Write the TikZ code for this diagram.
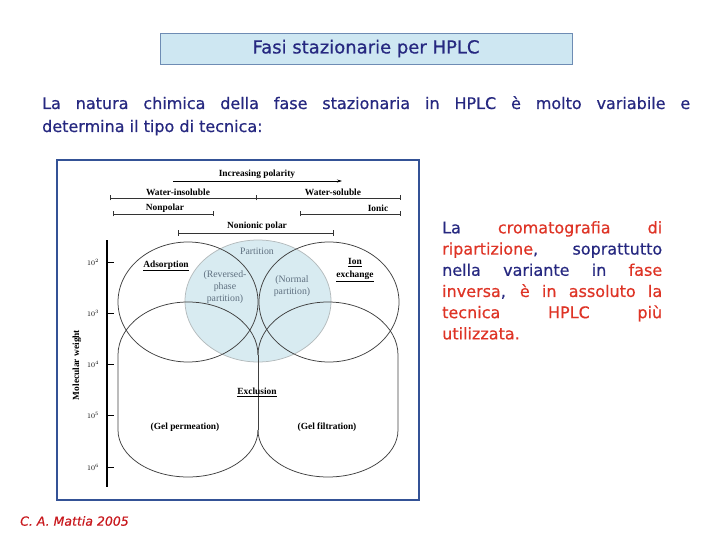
\documentclass[tikz,border=0pt]{standalone}
\usepackage{fontspec}
\setmainfont{Liberation Serif}
\newfontfamily\slidefont[FakeBold=0.6]{DejaVu Sans}
\usetikzlibrary{arrows.meta, positioning}
\definecolor{cnavy}   {RGB}{38, 40,128}
\definecolor{cred}    {RGB}{222,52, 38}
\definecolor{cfoot}   {RGB}{200,25, 30}
\definecolor{ctitle}  {RGB}{206,231,242}
\definecolor{ctitleb} {RGB}{110,140,180}
\definecolor{cframe}  {RGB}{52, 82,150}
\definecolor{cpart}   {RGB}{216,235,241}
\definecolor{cgtxt}   {RGB}{95,112,128}
\tikzset{
  titlebox/.style={rectangle, draw=ctitleb, fill=ctitle, line width=0.8pt,
             minimum width=412pt, minimum height=31pt, inner sep=0pt,
             font=\slidefont\fontsize{18}{20}\selectfont, text=cnavy},
  para/.style={anchor=north west, inner sep=0pt, align=justify,
             font=\slidefont\fontsize{16}{23}\selectfont, text=cnavy},
  side/.style={anchor=north west, inner sep=0pt, align=justify, text width=220pt,
             font=\slidefont\fontsize{16}{21.2}\selectfont, text=cnavy},
  lab/.style={font=\fontsize{9.4}{10}\selectfont\bfseries, inner sep=0pt, align=center},
  glab/.style={font=\fontsize{9.8}{12}\selectfont, text=cgtxt, inner sep=0pt, align=center},
  bar/.style={{Bar[width=5pt]}-{Bar[width=5pt]}, line width=0.65pt, color=black!80},
  arr/.style={-{Stealth[length=5pt,width=3pt]}, line width=0.65pt},
  field/.style={line width=0.75pt, color=black!75},
}

\begin{document}
\begin{tikzpicture}[x=1pt, y=-1pt]
  \useasboundingbox (0,0) rectangle (720,540);

  % ── Slide texts ────────────────────────────────────────────────────────────
  \node[titlebox] (title) at (366,48.5) {Fasi stazionarie per HPLC};
  \node[para, text width=648pt] (intro) at (42,96)
    {La natura chimica della fase stazionaria in HPLC è molto variabile e\linebreak
     determina il tipo di tecnica:};
  \node[side] (note) at (442,221)
    {La \textcolor{cred}{cromatografia di\linebreak ripartizione}, soprattutto\linebreak
     nella variante in \textcolor{cred}{fase\linebreak inversa}, \textcolor{cred}{è in assoluto la\linebreak
     tecnica HPLC più\linebreak utilizzata.}};
  \node[anchor=west, text=cfoot, font=\slidefont\itshape\fontsize{12.5}{14}\selectfont,
        inner sep=0pt] (foot) at (20,521) {C. A. Mattia 2005};

  % ── Figure frame ───────────────────────────────────────────────────────────
  \draw[cframe, line width=2.6pt] (57,160) rectangle (419,500);

  % ── Polarity scales ────────────────────────────────────────────────────────
  \coordinate (pol-l) at (173,181);  \coordinate (pol-r) at (342,181);
  \coordinate (wat-l) at (110,198);  \coordinate (wat-m) at (256,198);
  \coordinate (wat-r) at (401,198);
  \coordinate (np-l)  at (113,214);  \coordinate (np-r)  at (214,214);
  \coordinate (ion-l) at (300,214);  \coordinate (ion-r) at (401,214);
  \coordinate (nip-l) at (178,233);  \coordinate (nip-r) at (334,233);

  \node[lab] (pol)    at (257,174) {Increasing polarity};
  \draw[arr] (pol-l) -- (pol-r);
  \node[lab] (wins)   at (178,192) {Water-insoluble};
  \node[lab] (wsol)   at (333,192) {Water-soluble};
  \draw[bar] (wat-l) -- (wat-r);
  \draw[line width=0.65pt, black!80] ([yshift=-2.5pt]wat-m) -- ([yshift=2.5pt]wat-m);
  \node[lab] (npol)   at (165,208) {Nonpolar};
  \draw[bar] (np-l) -- (np-r);
  \node[lab] (ionic)  at (378,208) {Ionic};
  \draw[bar] (ion-l) -- (ion-r);
  \node[lab] (nonion) at (257,226) {Nonionic polar};
  \draw[bar] (nip-l) -- (nip-r);

  % ── Molecular weight axis ──────────────────────────────────────────────────
  \draw[line width=1.4pt] (107,240) -- (107,487);
  \foreach \e/\yy in {2/262, 3/313, 4/364, 5/415, 6/467} {
    \draw[line width=0.65pt] (107,\yy) -- (114,\yy);
    \node[font=\fontsize{7.5}{8}\selectfont, inner sep=0pt] (mw\e) at (93,\yy) {$10^{\e}$};
  }
  \node[lab, rotate=90] (mw) at (77,365) {Molecular weight};

  % ── Separation fields ──────────────────────────────────────────────────────
  \fill[cpart] (258,301) ellipse[x radius=73, y radius=61];
  \draw[field, color=cpart!60!black!60] (258,301) ellipse[x radius=73, y radius=61];
  \draw[field] (188,302) ellipse[x radius=70, y radius=60];
  \draw[field] (329,302) ellipse[x radius=70, y radius=60];
  % exclusion lobes
  \draw[field] (258,355) arc[start angle=0, end angle=-180, x radius=70, y radius=53]
               -- (118,430) arc[start angle=180, end angle=0, x radius=70, y radius=47];
  \draw[field] (258,355) arc[start angle=180, end angle=360, x radius=70, y radius=53]
               -- (398,430) arc[start angle=0, end angle=180, x radius=70, y radius=47];
  \draw[field] (258,355) -- (258,430);

  % ── Field labels ───────────────────────────────────────────────────────────
  \node[glab] (part)  at (257,251) {Partition};
  \node[lab]  (ads)   at (166,266) {\underline{Adsorption}};
  \node[glab] (rev)   at (225,287) {(Reversed-\\phase\\partition)};
  \node[glab] (norm)  at (292,286) {(Normal\\partition)};
  \node[lab, font=\fontsize{9.4}{13}\selectfont\bfseries] (iex) at (355,270)
        {\underline{Ion}\\\underline{exchange}};
  \node[lab]  (excl)  at (257,392) {\underline{Exclusion}};
  \node[lab]  (gperm) at (185,427) {(Gel permeation)};
  \node[lab]  (gfilt) at (327,427) {(Gel filtration)};
\end{tikzpicture}
\end{document}
